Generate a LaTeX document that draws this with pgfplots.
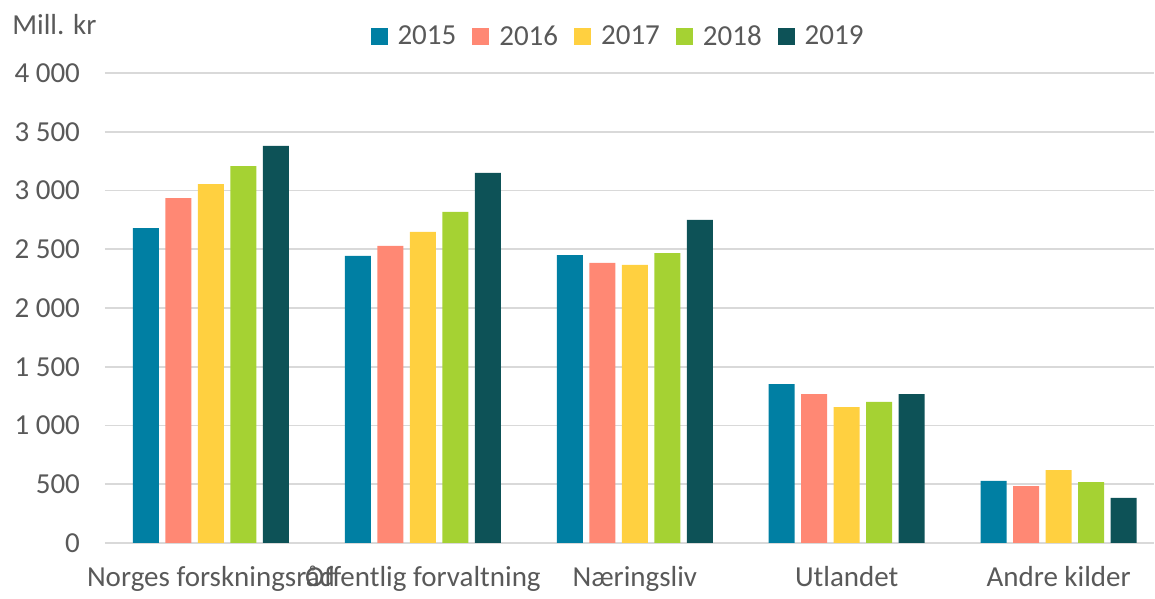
\documentclass[border=0pt]{standalone}
\usepackage{fontspec}
\setmainfont{Carlito}
\usepackage{pgfplots}
\pgfplotsset{compat=1.18}
\definecolor{txt}{HTML}{595959}
\definecolor{grid}{HTML}{D9D9D9}
\definecolor{c15}{HTML}{007FA3}
\definecolor{c16}{HTML}{FF8874}
\definecolor{c17}{HTML}{FFD040}
\definecolor{c18}{HTML}{A5D233}
\definecolor{c19}{HTML}{0D5257}
\begin{document}
\begin{tikzpicture}
\begin{axis}[
  scale only axis,
  width=524.5pt, height=235pt,
  ybar=3.25pt, bar width=13pt,
  xmin=-0.5, xmax=4.45,
  ymin=0, ymax=4000,
  ytick={0,500,...,4000},
  xtick=data,
  xticklabels={Norges forskningsråd, Offentlig forvaltning, Næringsliv, Utlandet, Andre kilder},
  font=\fontsize{14.5}{17}\selectfont,
  tick label style={text=txt, font=\fontsize{14.5}{17}\selectfont},
  /pgf/number format/assume math mode=true,
  /pgf/number format/1000 sep={\ },
  yticklabel style={anchor=east, xshift=-9pt},
  xticklabel style={anchor=north, yshift=-8pt},
  major tick length=0pt,
  axis x line*=bottom,
  axis y line*=left,
  x axis line style={draw=grid, line width=0.8pt, -},
  y axis line style={draw=none},
  ymajorgrids=true,
  grid style={draw=grid, line width=0.8pt},
  legend columns=5,
  legend style={draw=none, fill=none, at={(rel axis cs:0.49,1.077)}, anchor=center,
    text=txt, font=\fontsize{14.5}{17}\selectfont,
    /tikz/every even column/.append style={column sep=6pt}},
  legend image code/.code={\fill[#1] (0pt,-4.25pt) rectangle (8.5pt,4.25pt); \path (11.5pt,0pt);},
  clip=false,
]
\addplot[fill=c15, draw=none] coordinates {(0,2680) (1,2443) (2,2451) (3,1353) (4,528)};
\addplot[fill=c16, draw=none] coordinates {(0,2936) (1,2528) (2,2383) (3,1268) (4,485)};
\addplot[fill=c17, draw=none] coordinates {(0,3055) (1,2647) (2,2366) (3,1157) (4,621)};
\addplot[fill=c18, draw=none] coordinates {(0,3208) (1,2817) (2,2468) (3,1200) (4,519)};
\addplot[fill=c19, draw=none] coordinates {(0,3379) (1,3149) (2,2749) (3,1268) (4,383)};
\legend{2015,2016,2017,2018,2019}
\node[anchor=west, text=txt, inner sep=0pt] at ([xshift=-46.5pt,yshift=24pt]rel axis cs:0,1) {Mill. kr};
\end{axis}
\path[use as bounding box] (-52.5pt,-24.5pt) rectangle (525pt,271.5pt);
\end{tikzpicture}
\end{document}
